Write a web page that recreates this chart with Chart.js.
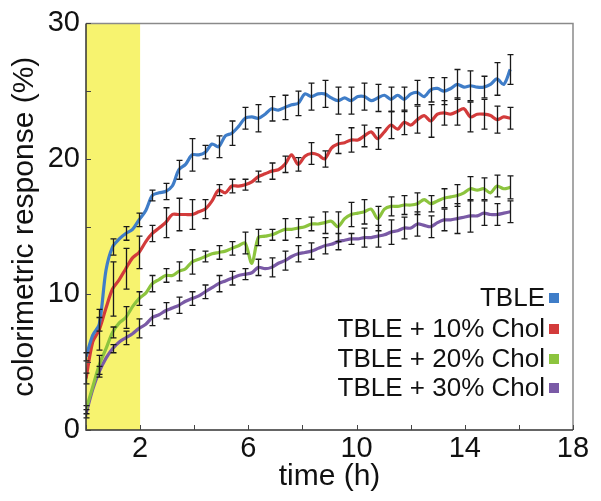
<!DOCTYPE html>
<html><head><meta charset="utf-8">
<script src="https://cdn.jsdelivr.net/npm/chart.js@4"></script>
<style>html,body{margin:0;padding:0;background:#fff}#wrap{width:601px;height:501px}</style>
</head><body><div id="wrap"><canvas id="c" width="601" height="501"></canvas></div>
<script>
const timeH = [0, 0.25, 0.49, 0.74, 0.98, 1.23, 1.47, 1.72, 1.96, 2.21, 2.45, 2.70, 2.94, 3.19, 3.43, 3.68, 3.92, 4.17, 4.41, 4.66, 4.90, 5.15, 5.39, 5.64, 5.88, 6.13, 6.37, 6.62, 6.86, 7.11, 7.35, 7.60, 7.84, 8.09, 8.33, 8.58, 8.82, 9.07, 9.31, 9.56, 9.80, 10.05, 10.29, 10.54, 10.78, 11.03, 11.27, 11.52, 11.76, 12.01, 12.25, 12.50, 12.74, 12.99, 13.23, 13.48, 13.72, 13.97, 14.21, 14.46, 14.70, 14.95, 15.19, 15.44, 15.68];

const tble = [5.4, 7.0, 7.8, 11.8, 13.5, 14.1, 14.5, 14.8, 15.5, 16.2,
  17.3, 17.5, 17.6, 18.0, 19.2, 19.6, 20.3, 20.3, 20.5, 21.1,
  20.9, 21.7, 21.9, 22.4, 23.0, 23.1, 23.0, 23.3, 23.7, 23.6,
  23.8, 24.0, 24.1, 24.8, 24.6, 24.8, 24.8, 24.5, 24.3, 24.5,
  24.3, 24.6, 24.6, 24.3, 24.5, 24.7, 24.4, 24.7, 24.4, 24.8,
  24.9, 24.6, 25.1, 25.2, 25.0, 25.2, 25.5, 25.3, 25.4, 25.3,
  25.3, 25.5, 25.9, 25.5, 26.6];
const chol10 = [3.8, 6.5, 7.4, 9.0, 10.4, 11.1, 11.9, 12.7, 13.1, 13.9,
  14.5, 14.9, 15.3, 15.9, 15.9, 15.9, 15.9, 16.1, 16.3, 16.9,
  17.7, 17.5, 18.0, 18.0, 18.1, 18.3, 18.7, 18.9, 19.1, 19.2,
  19.6, 20.3, 19.6, 20.2, 20.4, 20.3, 20.0, 20.8, 21.1, 21.2,
  21.4, 21.4, 21.7, 22.0, 21.5, 22.0, 22.5, 22.2, 22.7, 22.5,
  22.9, 23.2, 22.8, 23.3, 23.4, 23.3, 23.5, 23.7, 23.1, 23.3,
  23.3, 23.2, 22.9, 23.1, 23.0];
const chol20 = [1.5, 3.2, 4.8, 6.0, 7.2, 7.9, 8.3, 9.1, 9.7, 10.1,
  10.8, 11.1, 11.4, 11.4, 11.7, 11.9, 12.4, 12.6, 12.8, 13.0,
  13.1, 13.2, 13.4, 13.6, 13.8, 12.3, 14.2, 14.3, 14.4, 14.6,
  14.8, 14.8, 14.9, 15.0, 15.2, 15.2, 15.3, 15.4, 15.0, 15.6,
  15.9, 16.0, 16.1, 16.3, 15.6, 16.3, 16.5, 16.5, 16.6, 16.6,
  16.7, 17.0, 16.7, 16.9, 17.1, 17.2, 17.3, 17.5, 17.8, 17.7,
  17.8, 17.5, 18.0, 17.8, 17.9];
const chol30 = [1.2, 3.0, 4.3, 5.3, 6.0, 6.5, 6.8, 7.1, 7.5, 7.8,
  8.3, 8.5, 8.8, 9.0, 9.2, 9.5, 9.7, 9.9, 10.2, 10.5,
  10.8, 11.0, 11.2, 11.4, 11.5, 11.6, 12.0, 11.9, 12.0, 12.3,
  12.5, 12.8, 13.0, 13.1, 13.2, 13.4, 13.6, 13.7, 13.9, 14.0,
  14.1, 14.1, 14.2, 14.2, 14.3, 14.4, 14.6, 14.7, 14.9, 14.9,
  15.2, 15.1, 15.0, 15.3, 15.5, 15.5, 15.6, 15.7, 15.8, 15.8,
  16.0, 15.9, 15.9, 16.0, 16.1];

// error half-widths at every second time point (0, 0.49, 0.98, ... h)
const errTBLE = [0.3, 0.5, 0.6, 0.5, 0.5, 0.4, 0.6, 0.7, 1.2, 0.5, 0.8, 0.9, 0.8, 1.0, 0.9, 0.9, 0.9, 1.0, 1.0, 1.0, 1.0, 1.0, 1.0, 0.9, 0.9, 0.9, 0.9, 1.0, 1.1, 1.1, 0.8, 1.2, 1.1];
const err10 = [0.4, 1.5, 2.0, 1.5, 1.2, 0.6, 1.1, 1.2, 1.1, 0.7, 0.4, 0.5, 0.4, 0.4, 0.6, 0.6, 0.5, 0.8, 0.6, 0.7, 0.9, 0.8, 0.8, 1.0, 0.9, 1.0, 1.2, 0.9, 1.0, 1.1, 1.1, 1.0, 0.8];
const err20 = [0.3, 0.7, 0.4, 0.8, 0.5, 0.6, 0.5, 0.7, 0.9, 0.4, 0.5, 0.5, 0.8, 0.6, 0.4, 0.8, 0.7, 0.5, 0.8, 1.1, 0.9, 0.9, 0.9, 0.7, 0.7, 0.8, 0.6, 0.7, 0.8, 0.9, 0.8, 0.8, 0.85];
const err30 = [0.3, 0.4, 0.3, 0.5, 0.7, 0.6, 0.6, 0.6, 0.5, 0.5, 0.6, 0.5, 0.4, 0.6, 0.7, 0.7, 0.6, 0.6, 0.6, 0.6, 0.4, 0.7, 0.8, 0.9, 0.8, 0.9, 0.8, 0.8, 1.1, 1.2, 0.9, 0.8, 0.8];

const seriesLabels = ['TBLE', 'TBLE + 10% Chol', 'TBLE + 20% Chol', 'TBLE + 30% Chol'];
const seriesColors = ['#3f7dc8', '#d33b3b', '#8cc43e', '#7a5aa6'];
const xLabelTicks = [2, 6, 10, 14, 18];
const yLabelTicks = [0, 10, 20, 30];
const highlightRange = [0, 2];

const FONT = "'Liberation Sans', Arial, sans-serif";
const seriesValues = [tble, chol10, chol20, chol30];
const seriesErrors = [errTBLE, err10, err20, err30];

const datasets = seriesValues.map((vals, d) => ({
  label: seriesLabels[d],
  data: vals.map((v, i) => ({x: timeH[i], y: v})),
  borderColor: seriesColors[d],
  backgroundColor: seriesColors[d],
  borderWidth: 3.2,
  pointRadius: 0,
  tension: 0.3,
  fill: false
}));

const decor = {
  id: 'decor',
  beforeDatasetsDraw(chart) {
    const {ctx, chartArea: a, scales: {x}} = chart;
    ctx.save();
    ctx.fillStyle = '#f7f36f';
    const x0 = x.getPixelForValue(highlightRange[0]);
    const x1 = x.getPixelForValue(highlightRange[1]);
    ctx.fillRect(x0, a.top, x1 - x0, a.bottom - a.top);
    ctx.restore();
  },
  afterDatasetsDraw(chart) {
    const {ctx, scales: {x, y}} = chart;
    ctx.save();
    ctx.strokeStyle = '#1a1a1a';
    ctx.lineWidth = 1.3;
    seriesValues.forEach((vals, d) => {
      seriesErrors[d].forEach((e, k) => {
        const i = k * 2;
        if (i >= vals.length) return;
        const px = Math.round(x.getPixelForValue(timeH[i])) + 0.5;
        const yt = y.getPixelForValue(vals[i] + e);
        const yb = y.getPixelForValue(vals[i] - e);
        ctx.beginPath();
        ctx.moveTo(px, yt); ctx.lineTo(px, yb);
        ctx.moveTo(px - 3, yt); ctx.lineTo(px + 3, yt);
        ctx.moveTo(px - 3, yb); ctx.lineTo(px + 3, yb);
        ctx.stroke();
      });
    });
    ctx.restore();
  },
  afterDraw(chart) {
    const {ctx, chartArea: a, scales: {x, y}} = chart;
    ctx.save();
    ctx.strokeStyle = '#8a8a8a';
    ctx.lineWidth = 1.5;
    ctx.beginPath();
    ctx.moveTo(a.left, a.top); ctx.lineTo(a.right, a.top); ctx.lineTo(a.right, a.bottom);
    ctx.stroke();
    ctx.strokeStyle = '#333';
    ctx.beginPath();
    ctx.moveTo(a.left, a.top); ctx.lineTo(a.left, a.bottom); ctx.lineTo(a.right, a.bottom);
    ctx.stroke();
    ctx.lineWidth = 1;
    ctx.strokeStyle = '#444';
    ctx.beginPath();
    x.ticks.forEach(t => {
      const px = Math.round(x.getPixelForValue(t.value)) + 0.5;
      ctx.moveTo(px, a.bottom); ctx.lineTo(px, a.bottom - 5);
    });
    y.ticks.forEach(t => {
      const py = Math.round(y.getPixelForValue(t.value)) + 0.5;
      ctx.moveTo(a.left, py); ctx.lineTo(a.left + 5, py);
    });
    ctx.stroke();
    ctx.font = '26px ' + FONT;
    ctx.textAlign = 'right';
    ctx.textBaseline = 'middle';
    const rows = [298, 329, 359, 388];
    seriesLabels.forEach((lab, d) => {
      ctx.fillStyle = '#111';
      ctx.fillText(lab, 545, rows[d] + 1);
      ctx.fillStyle = seriesColors[d];
      ctx.fillRect(549, rows[d] - 5, 10, 10);
    });
    ctx.restore();
  }
};

new Chart(document.getElementById('c'), {
  type: 'line',
  data: {datasets},
  options: {
    responsive: false,
    animation: false,
    devicePixelRatio: 1,
    layout: {padding: {left: 0, top: 21, right: 28, bottom: 0}},
    plugins: {legend: {display: false}, tooltip: {enabled: false}},
    scales: {
      x: {
        type: 'linear', min: 0, max: 18,
        ticks: {stepSize: 2, autoSkip: false, maxRotation: 0, padding: 2, color: '#111',
          font: {family: FONT, size: 29},
          callback: v => xLabelTicks.includes(v) ? String(v) : ''},
        grid: {display: false, drawTicks: false},
        border: {display: false},
        title: {display: true, text: 'time (h)', color: '#111', font: {family: FONT, size: 30}, padding: {top: 0, bottom: 6}},
        afterFit: s => { s.height = 71; }
      },
      y: {
        min: 0, max: 30,
        ticks: {stepSize: 5, autoSkip: false, padding: 6, color: '#111',
          font: {family: FONT, size: 29},
          callback: v => yLabelTicks.includes(v) ? String(v) : ''},
        grid: {display: false, drawTicks: false},
        border: {display: false},
        title: {display: true, text: 'colorimetric response (%)', color: '#111', font: {family: FONT, size: 30}, padding: {top: 7, bottom: 0}},
        afterFit: s => { s.width = 86; }
      }
    }
  },
  plugins: [decor]
});
</script></body></html>
